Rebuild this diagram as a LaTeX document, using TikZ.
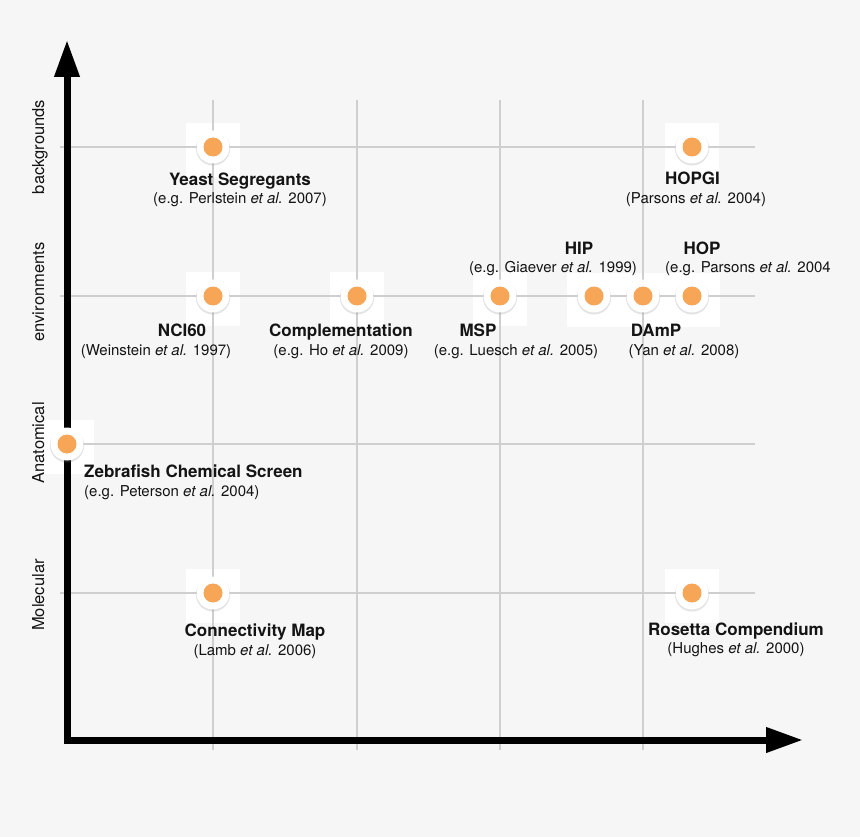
\documentclass[tikz,border=0pt]{standalone}
\usepackage{fontspec}
\setmainfont{TeX Gyre Heros}
\usetikzlibrary{arrows.meta,shadows}
\definecolor{bg}{HTML}{F6F6F6}
\definecolor{gridc}{HTML}{CFCFCF}
\definecolor{dotc}{HTML}{F7A557}
\definecolor{ink}{HTML}{141414}
\begin{document}
\begin{tikzpicture}[x=1pt,y=-1pt,
  gridline/.style={draw=gridc,line width=1.6pt},
  axisline/.style={draw=black,line width=7pt,line join=miter,
    {Triangle[length=37pt,width=24pt]}-{Triangle[length=37pt,width=24pt]}},
  pad/.style={fill=white},
  dot/.style={circle,fill=white,minimum size=33pt,inner sep=0pt,
    drop shadow={shadow xshift=0pt,shadow yshift=-1.3pt,opacity=0.22,shadow scale=1.04},
    path picture={\fill[dotc] (path picture bounding box.center) circle[radius=9.5pt];}},
  ttl/.style={font=\fontsize{17}{20}\selectfont\bfseries,text=ink,inner sep=0pt,anchor=base},
  cit/.style={font=\fontsize{15}{18}\selectfont,text=ink,inner sep=0pt,anchor=base},
  axl/.style={font=\fontsize{16.5}{19}\selectfont,text=ink,inner sep=0pt,anchor=base,rotate=90}
]
\fill[bg] (0,0) rectangle (860,837);
\useasboundingbox (0,0) rectangle (860,837);

% dot positions
\coordinate (pyeast) at (213,147);
\coordinate (phopgi) at (692,147);
\coordinate (pnci) at (213,296);
\coordinate (pcomp) at (357,296);
\coordinate (pmsp) at (500,296);
\coordinate (phip) at (594,296);
\coordinate (pdamp) at (643,296);
\coordinate (phop) at (692,296);
\coordinate (pzebra) at (67,444);
\coordinate (pcmap) at (213,593);
\coordinate (prosetta) at (692,593);

% white pads
\foreach \p in {pyeast,phopgi,pnci,pcomp,pmsp,pzebra,pcmap,prosetta}
  \fill[pad] ([shift={(-27,-24)}]\p) rectangle ([shift={(27,30)}]\p);
\fill[pad] (567,273) rectangle (720,327);

% grid
\foreach \x in {213,357,500,643}
  \draw[gridline] (\x,100) -- (\x,750);
\foreach \y in {147,296,444,593}
  \draw[gridline] (60,\y) -- (755,\y);

% axes
\coordinate (ytip) at (67,40);
\coordinate (corner) at (67,740);
\coordinate (xtip) at (803,740);
\draw[axisline] (ytip) -- (corner) -- (xtip);

% axis labels
\node[axl] (lback) at (44,147) {backgrounds};
\node[axl] (lenv) at (44,292) {environments};
\node[axl] (lanat) at (44,443) {Anatomical};
\node[axl] (lmol) at (44,595) {Molecular};

% dots
\node[dot] (yeast) at (pyeast) {};
\node[dot] (hopgi) at (phopgi) {};
\node[dot] (nci) at (pnci) {};
\node[dot] (comp) at (pcomp) {};
\node[dot] (msp) at (pmsp) {};
\node[dot] (hip) at (phip) {};
\node[dot] (damp) at (pdamp) {};
\node[dot] (hop) at (phop) {};
\node[dot] (zebra) at (pzebra) {};
\node[dot] (cmap) at (pcmap) {};
\node[dot] (rosetta) at (prosetta) {};

% labels
\node[ttl] (tyeast) at (240,186) {Yeast Segregants};
\node[cit] (cyeast) at (240,204) {(e.g. Perlstein \textit{et al.} 2007)};
\node[ttl] (thopgi) at (692.5,185) {HOPGI};
\node[cit] (chopgi) at (696,203.5) {(Parsons \textit{et al.} 2004)};
\node[ttl] (thip) at (579,255) {HIP};
\node[cit] (chip) at (553,273) {(e.g. Giaever \textit{et al.} 1999)};
\node[ttl] (thop) at (702,255) {HOP};
\node[cit] (chop) at (748,273) {(e.g. Parsons \textit{et al.} 2004};
\node[ttl] (tmsp) at (478,337) {MSP};
\node[cit] (cmsp) at (516,355.5) {(e.g. Luesch \textit{et al.} 2005)};
\node[ttl] (tdamp) at (656,337) {DAmP};
\node[cit] (cdamp) at (684,355.5) {(Yan \textit{et al.} 2008)};
\node[ttl] (tnci) at (182,337) {NCI60};
\node[cit] (cnci) at (156,355.5) {(Weinstein \textit{et al.} 1997)};
\node[ttl] (tcomp) at (341,337) {Complementation};
\node[cit] (ccomp) at (341,355.5) {(e.g. Ho \textit{et al.} 2009)};
\node[ttl,anchor=base west] (tzebra) at (84,477) {Zebrafish Chemical Screen};
\node[cit,anchor=base west] (czebra) at (84,496) {(e.g. Peterson \textit{et al.} 2004)};
\node[ttl] (tcmap) at (255,636) {Connectivity Map};
\node[cit] (ccmap) at (255,655) {(Lamb \textit{et al.} 2006)};
\node[ttl] (trosetta) at (736,635) {Rosetta Compendium};
\node[cit] (crosetta) at (736,653.5) {(Hughes \textit{et al.} 2000)};
\end{tikzpicture}
\end{document}
